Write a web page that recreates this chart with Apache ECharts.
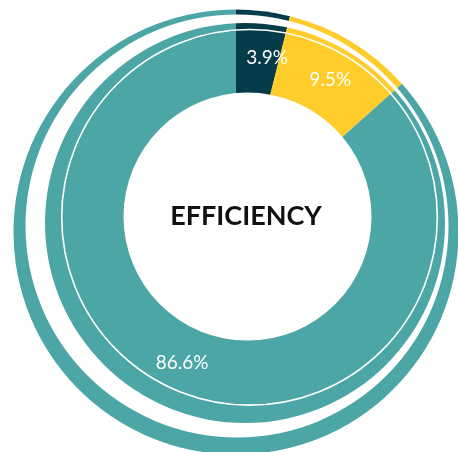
<!DOCTYPE html>
<html>
<head>
<meta charset="utf-8">
<script src="https://cdn.jsdelivr.net/npm/echarts@6/dist/echarts.min.js"></script>
<style>
  html, body { margin: 0; padding: 0; background: #fff; }
  #efficiency_chart { width: 458px; height: 452px; }
</style>
</head>
<body>
<div id="efficiency_chart"></div>
<script>
//*************DATA******************
var sliceNames = ['Part 1', 'Part 2', 'Part 3'];
var shares = [3.9, 9.5, 86.6];
var centerTitle = 'EFFICIENCY';

var sliceColors = ['#063c4a', '#fecd2b', '#4ba6a5'];

//*************WHITE GAP SHAPE (two circles, not same center)******************
var GapRing = echarts.graphic.extendShape({
  shape: { x1: 0, y1: 0, r1: 0, x2: 0, y2: 0, r2: 0 },
  buildPath: function (ctx, shape) {
    ctx.moveTo(shape.x1 + shape.r1, shape.y1);
    ctx.arc(shape.x1, shape.y1, shape.r1, 0, Math.PI * 2, false);
    ctx.closePath();
    ctx.moveTo(shape.x2 + shape.r2, shape.y2);
    ctx.arc(shape.x2, shape.y2, shape.r2, 0, Math.PI * 2, true);
    ctx.closePath();
  }
});
echarts.graphic.registerShape('gapRing', GapRing);

var pieData = [];
var labelData = [];
for (var i = 0; i < shares.length; i++) {
  pieData.push({ name: sliceNames[i], value: shares[i], itemStyle: { color: sliceColors[i] } });
  labelData.push({ name: sliceNames[i], value: shares[i] });
}

var eChart_1 = echarts.init(document.getElementById('efficiency_chart'));

var option1 = {
  animation: false,
  series: [{
    // big pie, the rings are cut out of it with white shapes
    name: 'efficiency',
    type: 'pie',
    z: 2,
    silent: true,
    center: [236, 232],
    radius: [0, 222.5],
    startAngle: 90,
    clockwise: true,
    itemStyle: { borderWidth: 0 },
    label: { show: false },
    labelLine: { show: false },
    data: pieData
  }, {
    // invisible copy that only places the percent labels in the ring
    name: 'labels',
    type: 'pie',
    z: 200,
    silent: true,
    center: [247.5, 216.6],
    radius: [124, 190],
    startAngle: 90,
    clockwise: true,
    itemStyle: { color: 'rgba(0,0,0,0)', borderWidth: 0 },
    label: {
      show: true,
      position: 'inside',
      color: '#fff',
      fontFamily: 'Lato',
      fontSize: 19,
      formatter: function (p) { return p.value + '%'; }
    },
    labelLine: { show: false },
    data: labelData
  }],
  graphic: {
    elements: [{
      // white gap between outer band and main ring
      type: 'gapRing',
      z: 100,
      silent: true,
      shape: { x1: 237, y1: 226, r1: 211.5, x2: 245, y2: 223, r2: 200 },
      style: { fill: '#fff' }
    }, {
      type: 'circle',
      z: 100,
      silent: true,
      shape: { cx: 249.5, cy: 217.3, r: 187.8 },
      style: { fill: 'none', stroke: '#fff', lineWidth: 1.6 }
    }, {
      type: 'circle',
      z: 100,
      silent: true,
      shape: { cx: 247.5, cy: 216.6, r: 124 },
      style: { fill: '#fff' }
    }, {
      type: 'text',
      z: 150,
      silent: true,
      x: 246,
      y: 216,
      style: {
        text: centerTitle,
        fill: '#111',
        font: 'bold 27px Lato',
        align: 'center',
        verticalAlign: 'middle'
      }
    }]
  }
};

eChart_1.setOption(option1);
</script>
</body>
</html>
